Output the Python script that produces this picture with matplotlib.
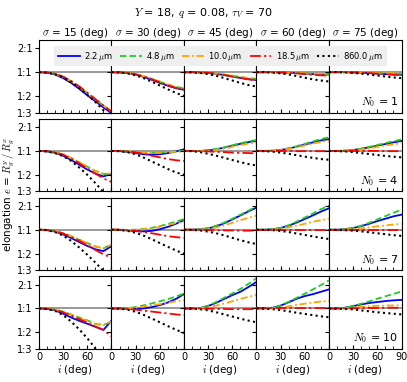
import numpy as np
import matplotlib
matplotlib.use("Agg")
import matplotlib.pyplot as plt

plt.rcParams['mathtext.fontset'] = 'cm'
plt.rcParams['font.family'] = ['DejaVu Sans']

# inclination grid (deg)
incl = [0, 10, 20, 30, 40, 50, 60, 70, 80, 90]
sigmas = [15, 30, 45, 60, 75]
N0s = [1, 4, 7, 10]
wavelengths = ["2.2", "4.8", "10.0", "18.5", "860.0"]
xtick_vals = [0, 30, 60, 90]
# elongation index: +1 = 2:1, 0 = 1:1, -1 = 1:2, -1.7 = 1:3
ytick_vals = [1.0, 0.0, -1.0, -1.7]
ytick_labels = ["2:1", "1:1", "1:2", "1:3"]

# data[row N0][col sigma] = [blue, green, orange, red, black]
r1c1 = [[0, -0.02, -0.1, -0.25, -0.45, -0.7, -0.97, -1.22, -1.48, -1.72],
        [0, -0.01, -0.07, -0.2, -0.38, -0.62, -0.88, -1.15, -1.4, -1.65],
        [0, -0.01, -0.07, -0.2, -0.38, -0.62, -0.88, -1.15, -1.4, -1.66],
        [0, -0.01, -0.07, -0.19, -0.37, -0.6, -0.86, -1.13, -1.4, -1.66],
        [0, -0.02, -0.08, -0.22, -0.42, -0.66, -0.95, -1.25, -1.6, -2.0]]
r1c2 = [[0, -0.01, -0.04, -0.1, -0.2, -0.32, -0.45, -0.57, -0.67, -0.74],
        [0, -0.01, -0.03, -0.08, -0.17, -0.28, -0.4, -0.52, -0.62, -0.67],
        [0, -0.01, -0.03, -0.08, -0.17, -0.28, -0.4, -0.52, -0.62, -0.68],
        [0, -0.01, -0.03, -0.09, -0.18, -0.3, -0.42, -0.55, -0.66, -0.73],
        [0, -0.01, -0.05, -0.13, -0.25, -0.4, -0.56, -0.72, -0.87, -1.0]]
r1c3 = [[0, 0, -0.01, -0.03, -0.07, -0.12, -0.18, -0.24, -0.29, -0.33],
        [0, 0, -0.01, -0.03, -0.06, -0.1, -0.15, -0.2, -0.25, -0.28],
        [0, 0, -0.01, -0.03, -0.06, -0.1, -0.15, -0.2, -0.25, -0.28],
        [0, 0, -0.01, -0.03, -0.07, -0.12, -0.18, -0.24, -0.3, -0.35],
        [0, -0.01, -0.03, -0.08, -0.15, -0.25, -0.35, -0.45, -0.54, -0.6]]
r1c4 = [[0, 0, 0, -0.01, -0.02, -0.04, -0.06, -0.08, -0.1, -0.1],
        [0, 0, 0, -0.01, -0.02, -0.03, -0.05, -0.07, -0.08, -0.08],
        [0, 0, 0, -0.01, -0.02, -0.03, -0.05, -0.07, -0.08, -0.08],
        [0, 0, 0, -0.01, -0.03, -0.05, -0.08, -0.11, -0.13, -0.15],
        [0, 0, -0.02, -0.05, -0.1, -0.16, -0.23, -0.3, -0.35, -0.39]]
r1c5 = [[0, 0, 0, -0.01, -0.02, -0.04, -0.06, -0.08, -0.1, -0.11],
        [0, 0, 0, 0, -0.01, -0.02, -0.03, -0.05, -0.06, -0.07],
        [0, 0, 0, 0, -0.01, -0.01, -0.02, -0.03, -0.04, -0.04],
        [0, 0, 0, -0.01, -0.02, -0.04, -0.06, -0.08, -0.1, -0.11],
        [0, 0, -0.01, -0.03, -0.06, -0.1, -0.14, -0.18, -0.22, -0.25]]

r2c1 = [[0, -0.02, -0.08, -0.2, -0.38, -0.58, -0.78, -0.95, -1.07, -0.96],
        [0, -0.01, -0.06, -0.15, -0.3, -0.48, -0.66, -0.84, -0.97, -0.96],
        [0, -0.01, -0.06, -0.15, -0.3, -0.48, -0.66, -0.83, -0.95, -0.95],
        [0, -0.01, -0.06, -0.16, -0.32, -0.52, -0.74, -0.95, -1.15, -1.3],
        [0, -0.02, -0.09, -0.22, -0.42, -0.7, -1.0, -1.35, -1.72, -2.1]]
r2c2 = [[0, -0.01, -0.04, -0.09, -0.14, -0.16, -0.14, -0.09, -0.02, 0.07],
        [0, 0, -0.02, -0.05, -0.07, -0.08, -0.07, -0.05, -0.02, 0.0],
        [0, 0, -0.02, -0.04, -0.06, -0.07, -0.07, -0.05, -0.03, -0.02],
        [0, 0, -0.02, -0.06, -0.12, -0.2, -0.27, -0.34, -0.39, -0.42],
        [0, -0.01, -0.05, -0.14, -0.28, -0.44, -0.6, -0.76, -0.9, -1.0]]
r2c3 = [[0, 0, 0, 0.02, 0.07, 0.14, 0.22, 0.3, 0.37, 0.42],
        [0, 0, 0, 0.03, 0.08, 0.15, 0.24, 0.32, 0.4, 0.46],
        [0, 0, -0.01, 0.0, 0.04, 0.1, 0.17, 0.24, 0.31, 0.36],
        [0, 0, -0.01, -0.02, -0.04, -0.05, -0.07, -0.08, -0.09, -0.1],
        [0, -0.01, -0.05, -0.12, -0.2, -0.29, -0.38, -0.47, -0.55, -0.61]]
r2c4 = [[0, 0, 0.01, 0.04, 0.1, 0.18, 0.27, 0.36, 0.44, 0.5],
        [0, 0, 0.01, 0.05, 0.11, 0.2, 0.3, 0.4, 0.5, 0.57],
        [0, 0, 0, 0.03, 0.08, 0.15, 0.23, 0.31, 0.38, 0.43],
        [0, 0, 0, 0, 0, -0.01, -0.01, -0.01, -0.01, -0.01],
        [0, -0.01, -0.03, -0.07, -0.12, -0.18, -0.24, -0.29, -0.34, -0.37]]
r2c5 = [[0, 0, 0.01, 0.04, 0.09, 0.15, 0.22, 0.29, 0.36, 0.42],
        [0, 0, 0.01, 0.05, 0.1, 0.17, 0.25, 0.33, 0.41, 0.48],
        [0, 0, 0, 0.02, 0.06, 0.11, 0.17, 0.23, 0.28, 0.32],
        [0, 0, 0, 0, 0, 0, 0, -0.01, -0.01, -0.01],
        [0, -0.01, -0.02, -0.05, -0.09, -0.13, -0.17, -0.21, -0.24, -0.27]]

r3c1 = [[0, -0.02, -0.08, -0.2, -0.35, -0.52, -0.68, -0.82, -0.9, -0.69],
        [0, -0.01, -0.06, -0.15, -0.28, -0.42, -0.56, -0.7, -0.79, -0.6],
        [0, -0.01, -0.06, -0.15, -0.28, -0.42, -0.56, -0.7, -0.78, -0.63],
        [0, -0.01, -0.06, -0.16, -0.3, -0.47, -0.65, -0.85, -1.03, -1.18],
        [0, -0.02, -0.1, -0.25, -0.47, -0.75, -1.05, -1.38, -1.72, -2.1]]
r3c2 = [[0, -0.01, -0.03, -0.06, -0.07, -0.05, 0.02, 0.12, 0.25, 0.4],
        [0, 0, -0.01, 0.0, 0.03, 0.08, 0.15, 0.24, 0.34, 0.45],
        [0, 0, -0.01, -0.01, 0.02, 0.06, 0.12, 0.2, 0.28, 0.35],
        [0, 0, -0.02, -0.05, -0.1, -0.15, -0.21, -0.27, -0.31, -0.35],
        [0, -0.01, -0.05, -0.13, -0.25, -0.4, -0.56, -0.72, -0.87, -1.01]]
r3c3 = [[0, 0, 0.01, 0.05, 0.14, 0.27, 0.43, 0.6, 0.77, 0.93],
        [0, 0, 0.02, 0.07, 0.17, 0.3, 0.46, 0.63, 0.8, 0.97],
        [0, 0, 0, 0.03, 0.09, 0.18, 0.29, 0.4, 0.5, 0.59],
        [0, 0, 0, -0.01, -0.02, -0.03, -0.03, -0.04, -0.04, -0.04],
        [0, -0.01, -0.03, -0.08, -0.15, -0.24, -0.34, -0.44, -0.53, -0.6]]
r3c4 = [[0, 0, 0.02, 0.07, 0.17, 0.3, 0.45, 0.6, 0.76, 0.9],
        [0, 0, 0.02, 0.08, 0.19, 0.34, 0.51, 0.68, 0.86, 1.02],
        [0, 0, 0.01, 0.04, 0.1, 0.17, 0.25, 0.33, 0.4, 0.46],
        [0, 0, 0, 0, 0, 0, 0, 0, 0, 0],
        [0, -0.01, -0.02, -0.05, -0.1, -0.16, -0.22, -0.28, -0.34, -0.39]]
r3c5 = [[0, 0, 0.02, 0.07, 0.15, 0.25, 0.36, 0.46, 0.56, 0.63],
        [0, 0, 0.02, 0.08, 0.17, 0.29, 0.43, 0.57, 0.71, 0.84],
        [0, 0, 0.01, 0.03, 0.06, 0.1, 0.14, 0.18, 0.22, 0.25],
        [0, 0, 0, 0, 0, 0, 0, 0, 0, 0],
        [0, -0.01, -0.02, -0.04, -0.07, -0.11, -0.15, -0.19, -0.23, -0.26]]

r4c1 = [[0, -0.02, -0.08, -0.22, -0.38, -0.52, -0.64, -0.77, -0.9, -0.51],
        [0, -0.01, -0.05, -0.13, -0.25, -0.38, -0.5, -0.65, -0.7, -0.55],
        [0, -0.01, -0.05, -0.14, -0.27, -0.4, -0.52, -0.64, -0.68, -0.55],
        [0, -0.01, -0.06, -0.16, -0.3, -0.45, -0.6, -0.76, -0.9, -1.17],
        [0, -0.02, -0.1, -0.28, -0.55, -0.88, -1.25, -1.68, -2.1, -2.5]]
r4c2 = [[0, 0, -0.01, -0.02, 0.0, 0.06, 0.14, 0.25, 0.4, 0.6],
        [0, 0, 0.01, 0.06, 0.13, 0.21, 0.3, 0.39, 0.5, 0.63],
        [0, 0, 0, 0.03, 0.08, 0.13, 0.18, 0.24, 0.3, 0.35],
        [0, 0, -0.02, -0.05, -0.09, -0.13, -0.17, -0.21, -0.25, -0.28],
        [0, -0.01, -0.05, -0.14, -0.27, -0.42, -0.58, -0.74, -0.89, -1.03]]
r4c3 = [[0, 0, 0.02, 0.1, 0.24, 0.4, 0.56, 0.7, 0.9, 1.11],
        [0, 0, 0.03, 0.12, 0.27, 0.45, 0.63, 0.82, 1.03, 1.27],
        [0, 0, 0.01, 0.05, 0.12, 0.21, 0.3, 0.4, 0.49, 0.57],
        [0, 0, 0, -0.01, -0.02, -0.02, -0.03, -0.03, -0.03, -0.03],
        [0, -0.01, -0.03, -0.08, -0.16, -0.25, -0.34, -0.43, -0.51, -0.58]]
r4c4 = [[0, 0, 0.03, 0.12, 0.26, 0.41, 0.52, 0.6, 0.7, 0.8],
        [0, 0, 0.03, 0.13, 0.28, 0.45, 0.62, 0.8, 0.98, 1.18],
        [0, 0, 0.01, 0.04, 0.09, 0.15, 0.2, 0.25, 0.29, 0.32],
        [0, 0, 0, 0, 0, 0, 0, 0, 0, 0],
        [0, -0.01, -0.03, -0.07, -0.12, -0.18, -0.23, -0.28, -0.33, -0.37]]
r4c5 = [[0, 0, 0.03, 0.1, 0.17, 0.23, 0.27, 0.31, 0.34, 0.36],
        [0, 0, 0.03, 0.1, 0.2, 0.3, 0.41, 0.51, 0.61, 0.71],
        [0, 0, 0.01, 0.04, 0.07, 0.09, 0.11, 0.12, 0.13, 0.14],
        [0, 0, 0, 0.01, 0.01, 0.02, 0.02, 0.03, 0.03, 0.03],
        [0, -0.01, -0.02, -0.04, -0.08, -0.12, -0.16, -0.19, -0.22, -0.25]]

data = [[r1c1, r1c2, r1c3, r1c4, r1c5],
        [r2c1, r2c2, r2c3, r2c4, r2c5],
        [r3c1, r3c2, r3c3, r3c4, r3c5],
        [r4c1, r4c2, r4c3, r4c4, r4c5]]

colors = ['#0000ff', '#22cc22', '#ffa500', '#ff0000', '#000000']
styles = ['-', (0, (3.5, 1.8)), (0, (4, 1.5, 1, 1.5)), (0, (6, 1.8, 1.2, 1.8)), (0, (1, 1.6))]
lws = [1.3, 1.3, 1.3, 1.3, 1.5]

fig = plt.figure(figsize=(4.07, 3.82), dpi=100)
gs = fig.add_gridspec(4, 5, left=0.0958, right=0.9865, top=0.8953, bottom=0.0864,
                      wspace=0.0, hspace=0.083)

handles = []
for r in range(4):
    for c in range(5):
        ax = fig.add_subplot(gs[r, c])
        ax.axhline(0, color='#888888', lw=1.2, zorder=1)
        for k in range(5):
            h, = ax.plot(incl, data[r][c][k], color=colors[k], linestyle=styles[k],
                         lw=lws[k], zorder=2 + k)
            if r == 0 and c == 0:
                handles.append(h)
        ax.set_xlim(0, 90)
        ax.set_ylim(-1.7, 1.35)
        ax.set_yticks(ytick_vals)
        ax.set_xticks(xtick_vals)
        ax.set_xticks(np.arange(0, 91, 10), minor=True)
        ax.tick_params(axis='y', direction='out', length=3, width=0.8, labelsize=7, pad=1.5)
        ax.tick_params(axis='x', which='major', direction='in', length=3, width=0.8,
                       labelsize=7, pad=2, top=False)
        ax.tick_params(axis='x', which='minor', direction='in', length=2, width=0.6)
        if c == 0:
            ax.set_yticklabels(ytick_labels)
        else:
            ax.set_yticklabels([])
        if r == 3:
            xl = [str(v) for v in xtick_vals]
            if c < 4:
                xl[-1] = ''
            ax.set_xticklabels(xl)
            ax.set_xlabel(r'$i$ (deg)', fontsize=7.5, labelpad=1)
        else:
            ax.set_xticklabels([])
        if r == 0:
            ax.set_title(r'$\sigma$ = %d (deg)' % sigmas[c], fontsize=7.5, pad=3)
        if c == 4:
            ax.text(0.96, 0.05, r'$N_0$ = %d' % N0s[r], transform=ax.transAxes,
                    ha='right', va='bottom', fontsize=8)
        for sp in ax.spines.values():
            sp.set_linewidth(0.8)

labels = [r'%s$\,\mu$m' % w for w in wavelengths]
leg = fig.legend(handles, labels, loc='center', bbox_to_anchor=(0.542, 0.853), ncol=5,
                 fontsize=6, frameon=True, handlelength=2.6, columnspacing=0.9,
                 handletextpad=0.5, borderpad=0.45, fancybox=True)
leg.get_frame().set_facecolor('#efefef')
leg.get_frame().set_edgecolor('none')
leg.get_frame().set_alpha(1.0)

fig.suptitle(r'$Y$ = 18, $q$ = 0.08, $\tau_V$ = 70', fontsize=8, y=0.985)
fig.text(0.022, 0.49, r'elongation $e$ = $R_g^y\,/\,R_g^x$', rotation=90,
         ha='center', va='center', fontsize=7.5)

fig.savefig('out.png', dpi=100)
